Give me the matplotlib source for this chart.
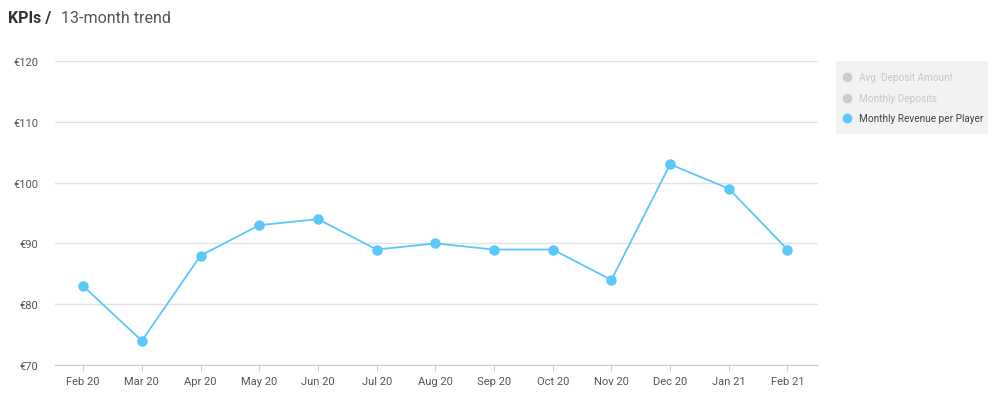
import matplotlib
matplotlib.use("Agg")
import matplotlib.pyplot as plt

months = ["Feb 20","Mar 20","Apr 20","May 20","Jun 20","Jul 20","Aug 20","Sep 20","Oct 20","Nov 20","Dec 20","Jan 21","Feb 21"]
revenue = [83, 74, 88, 93, 94, 89, 90, 89, 89, 84, 103, 99, 89]
yticks = [70, 80, 90, 100, 110, 120]
legend_labels = ["Avg. Deposit Amount", "Monthly Deposits", "Monthly Revenue per Player"]
legend_colors = ["#cccccc", "#cccccc", "#5ac8fa"]
legend_text_colors = ["#c8c8c8", "#c8c8c8", "#444444"]

plt.rcParams['font.family'] = ['Roboto', 'DejaVu Sans']
fig = plt.figure(figsize=(10, 4.1), dpi=100)
ax = fig.add_axes([0.055, 0.107, 0.763, 0.742])
x = list(range(len(months)))
ax.plot(x, revenue, color="#5ac8fa", lw=1.3, marker="o", ms=6.5, zorder=3)
ax.set_xlim(-0.48, 12.52)
ax.set_ylim(70, 120)
ax.set_yticks(yticks)
ax.set_yticklabels([f"€{v}" for v in yticks])
ax.set_xticks(x)
ax.set_xticklabels(months)
ax.grid(axis="y", color="#e3e3e3", lw=1)
ax.set_axisbelow(True)
for s in ["top", "right", "left"]:
    ax.spines[s].set_visible(False)
ax.spines["bottom"].set_color("#cccccc")
ax.tick_params(axis="y", length=0, labelsize=8, colors="#555555", pad=12)
ax.tick_params(axis="x", length=4, color="#cccccc", labelsize=8, colors="#555555")

fig.text(0.008, 0.945, "KPIs /", fontsize=11.5, fontweight="bold", color="#333333")
fig.text(0.061, 0.945, "13-month trend", fontsize=11.5, color="#555555")

# legend box
fig.patches.append(plt.Rectangle((0.836, 1-135/410), 0.152, 73/410, transform=fig.transFigure,
                                 facecolor="#f2f2f2", edgecolor="none"))
for i, (lab, c, tc) in enumerate(zip(legend_labels, legend_colors, legend_text_colors)):
    yy = 1 - (78 + 20.5*i)/410
    fig.lines.append(plt.Line2D([0.847], [yy], marker="o", ms=6, color=c, transform=fig.transFigure, lw=0))
    fig.text(0.859, yy, lab, fontsize=7.2, color=tc, va="center")

fig.savefig("out.png", dpi=100)
